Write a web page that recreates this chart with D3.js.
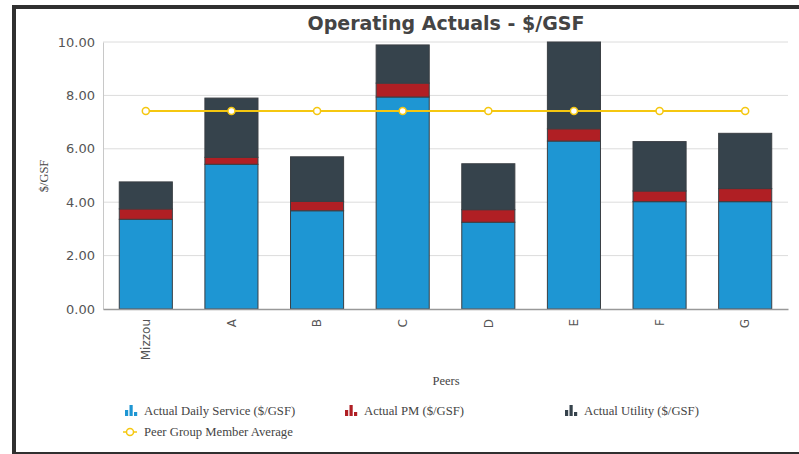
<!DOCTYPE html>
<html>
<head>
<meta charset="utf-8">
<script src="https://cdn.jsdelivr.net/npm/d3@7"></script>
<style>
  body { margin: 0; background: #fff; }
  svg { display: block; }
</style>
</head>
<body>
<div id="corpo"></div>
<script>
// peers and stacked values ($/GSF)
var peers = ["Mizzou", "A", "B", "C", "D", "E", "F", "G"];
var dailyService = [3.36, 5.42, 3.68, 7.94, 3.25, 6.29, 4.02, 4.02];
var actualPM = [0.39, 0.26, 0.35, 0.52, 0.47, 0.46, 0.40, 0.49];
var actualUtility = [1.01, 2.22, 1.67, 1.43, 1.72, 3.25, 1.85, 2.07];
var peerAverage = [7.42, 7.42, 7.42, 7.42, 7.42, 7.42, 7.42, 7.42];
var yTicks = [0, 2, 4, 6, 8, 10];

var seriesNames = ["Actual Daily Service ($/GSF)", "Actual PM ($/GSF)", "Actual Utility ($/GSF)"];
var seriesColors = ["#1e96d3", "#b01f24", "#36434c"];
var avgColor = "#f5c710";

var width = 799, height = 454;
var plotLeft = 103, plotRight = 788, plotTop = 42, plotBottom = 309;

var svg = d3.select("#corpo").append("svg")
    .attr("width", width)
    .attr("height", height);

// frame
svg.append("rect").attr("x", 0).attr("y", 0).attr("width", width).attr("height", height).attr("fill", "#fff");
svg.append("rect").attr("x", 12).attr("y", 5).attr("width", width - 12).attr("height", 4).attr("fill", "#303030");
svg.append("rect").attr("x", 12).attr("y", 5).attr("width", 4).attr("height", height - 5).attr("fill", "#303030");
svg.append("rect").attr("x", 12).attr("y", 452).attr("width", width - 12).attr("height", 2).attr("fill", "#303030");

var x = d3.scaleBand().domain(peers).range([plotLeft, plotRight]).paddingInner(0.38).paddingOuter(0.19);
var y = d3.scaleLinear().domain([0, 10]).range([plotBottom, plotTop]);

// gridlines
svg.append("g").selectAll("line")
    .data(yTicks.filter(function(d){ return d > 0; }))
    .enter().append("line")
    .attr("x1", plotLeft).attr("x2", plotRight)
    .attr("y1", function(d){ return y(d); })
    .attr("y2", function(d){ return y(d); })
    .style("stroke", "#dcdcdc")
    .style("stroke-width", 1);

// stacked bars
var rows = peers.map(function(p, i){
    return { peer: p, s0: dailyService[i], s1: actualPM[i], s2: actualUtility[i] };
});
var stack = d3.stack().keys(["s0", "s1", "s2"])(rows);

svg.append("g").selectAll("g")
    .data(stack)
    .enter().append("g")
    .style("fill", function(d, i){ return seriesColors[i]; })
    .selectAll("rect")
    .data(function(d){ return d; })
    .enter().append("rect")
    .attr("x", function(d){ return x(d.data.peer); })
    .attr("width", x.bandwidth())
    .attr("y", function(d){ return y(Math.min(d[1], 10)); })
    .attr("height", function(d){ return y(d[0]) - y(Math.min(d[1], 10)); })
    .style("stroke", "#3a3f44")
    .style("stroke-width", 1);

// y axis
var yAxis = svg.append("g")
    .attr("transform", "translate(" + plotLeft + ",0)")
    .call(d3.axisLeft(y).tickValues(yTicks).tickSize(0).tickPadding(8).tickFormat(d3.format(".2f")));
yAxis.select(".domain").style("stroke", "#c8c8c8");
yAxis.selectAll("text")
    .style("font-family", "'DejaVu Sans', Verdana, sans-serif")
    .style("font-size", "13px")
    .style("fill", "#555");

// x axis
var xAxis = svg.append("g")
    .attr("transform", "translate(0," + plotBottom + ")")
    .call(d3.axisBottom(x).tickSize(0));
xAxis.select(".domain").style("stroke", "#999").style("stroke-width", 1.5);
xAxis.selectAll("text")
    .attr("transform", "rotate(-90)")
    .attr("text-anchor", "end")
    .attr("x", -10)
    .attr("y", 0)
    .attr("dy", "0.35em")
    .style("font-family", "'DejaVu Sans', Verdana, sans-serif")
    .style("font-size", "12px")
    .style("fill", "#555");

// average line
var line = d3.line()
    .x(function(d, i){ return x(peers[i]) + x.bandwidth() / 2; })
    .y(function(d){ return y(d); });
svg.append("path")
    .datum(peerAverage)
    .attr("d", line)
    .style("fill", "none")
    .style("stroke", avgColor)
    .style("stroke-width", 2);
svg.append("g").selectAll("circle")
    .data(peerAverage)
    .enter().append("circle")
    .attr("cx", function(d, i){ return x(peers[i]) + x.bandwidth() / 2; })
    .attr("cy", function(d){ return y(d); })
    .attr("r", 3.5)
    .style("fill", "#fff")
    .style("stroke", avgColor)
    .style("stroke-width", 1.5);

// titles
svg.append("text")
    .attr("x", 446).attr("y", 30)
    .attr("text-anchor", "middle")
    .style("font-family", "'DejaVu Sans', Verdana, sans-serif")
    .style("font-weight", "bold")
    .style("font-size", "19px")
    .style("fill", "#444")
    .text("Operating Actuals - $/GSF");

svg.append("text")
    .attr("transform", "translate(48,176) rotate(-90)")
    .attr("text-anchor", "middle")
    .style("font-family", "'Liberation Serif', 'Times New Roman', serif")
    .style("font-size", "12.5px")
    .style("fill", "#444")
    .text("$/GSF");

svg.append("text")
    .attr("x", 446).attr("y", 385)
    .attr("text-anchor", "middle")
    .style("font-family", "'Liberation Serif', 'Times New Roman', serif")
    .style("font-size", "12.5px")
    .style("fill", "#444")
    .text("Peers");

// legend
var legendPos = [[125, 411], [345, 411], [565, 411]];
var legend = svg.append("g");
seriesNames.forEach(function(name, i){
    var g = legend.append("g").attr("transform", "translate(" + legendPos[i][0] + "," + legendPos[i][1] + ")");
    [6, 11, 4].forEach(function(h, j){
        g.append("rect")
            .attr("x", j * 4.5).attr("y", 5 - h)
            .attr("width", 3.2).attr("height", h)
            .style("fill", seriesColors[i]);
    });
    g.append("text")
        .attr("x", 19).attr("y", 4)
        .style("font-family", "'Liberation Serif', 'Times New Roman', serif")
        .style("font-size", "12.7px")
        .style("fill", "#444")
        .text(name);
});
var avgLegend = legend.append("g").attr("transform", "translate(123,432)");
avgLegend.append("line").attr("x1", 0).attr("x2", 14).attr("y1", 0).attr("y2", 0)
    .style("stroke", avgColor).style("stroke-width", 1.5);
avgLegend.append("circle").attr("cx", 7).attr("cy", 0).attr("r", 3.5)
    .style("fill", "#fff").style("stroke", avgColor).style("stroke-width", 1.5);
avgLegend.append("text")
    .attr("x", 21).attr("y", 4)
    .style("font-family", "'Liberation Serif', 'Times New Roman', serif")
    .style("font-size", "12.7px")
    .style("fill", "#444")
    .text("Peer Group Member Average");
</script>
</body>
</html>
